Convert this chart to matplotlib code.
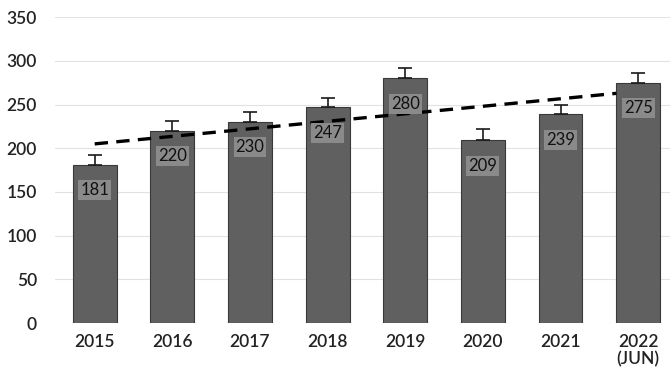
import numpy as np
import matplotlib
matplotlib.use('Agg')
import matplotlib.pyplot as plt

plt.rcParams['font.family'] = ['Lato', 'DejaVu Sans']

years = ['2015', '2016', '2017', '2018', '2019', '2020', '2021', '2022\n(JUN)']
values = [181, 220, 230, 247, 280, 209, 239, 275]
errors = [11, 11, 11, 11, 12, 13, 11, 11]

x = np.arange(len(years))

fig = plt.figure(figsize=(6.72, 3.81), dpi=100)
ax = fig.add_axes([0.082, 0.152, 0.915, 0.803])

ax.bar(x, values, width=0.565, color='#606060', edgecolor='#3a3a3a', linewidth=0.8, zorder=2)
ax.errorbar(x, values, yerr=[[0] * len(values), errors], fmt='none', ecolor='#1a1a1a',
            elinewidth=1.2, capsize=5, capthick=1.2, zorder=3)

# linear trend over the bars
slope, icept = np.polyfit(x, values, 1)
tx = np.array([0, 7 - 0.28])
ax.plot(tx, slope * tx + icept, color='black', linestyle=(0, (4, 2.5)), linewidth=2.4, zorder=4)

for xi, v in zip(x, values):
    ax.text(xi, v - 29, str(v), ha='center', va='center', fontsize=12, color='#111111',
            bbox=dict(boxstyle='square,pad=0.12', facecolor='#8a8a8a', edgecolor='none'),
            zorder=5)

ax.set_ylim(0, 350)
ax.set_xlim(-0.51, 7.41)
ax.set_yticks(range(0, 351, 50))
ax.set_xticks(x)
ax.set_xticklabels(years)
ax.yaxis.grid(True, color='#e2e2e2', linewidth=0.8, zorder=0)
ax.set_axisbelow(True)
for s in ax.spines.values():
    s.set_visible(False)
ax.tick_params(axis='both', length=0, labelsize=12.5, colors='#222222')
ax.tick_params(axis='y', pad=13)
ax.tick_params(axis='x', pad=8)
for lbl in ax.get_xticklabels() + ax.get_yticklabels():
    lbl.set_fontweight('semibold')
    lbl.set_linespacing(1.1)

fig.savefig('out.png', dpi=100)
